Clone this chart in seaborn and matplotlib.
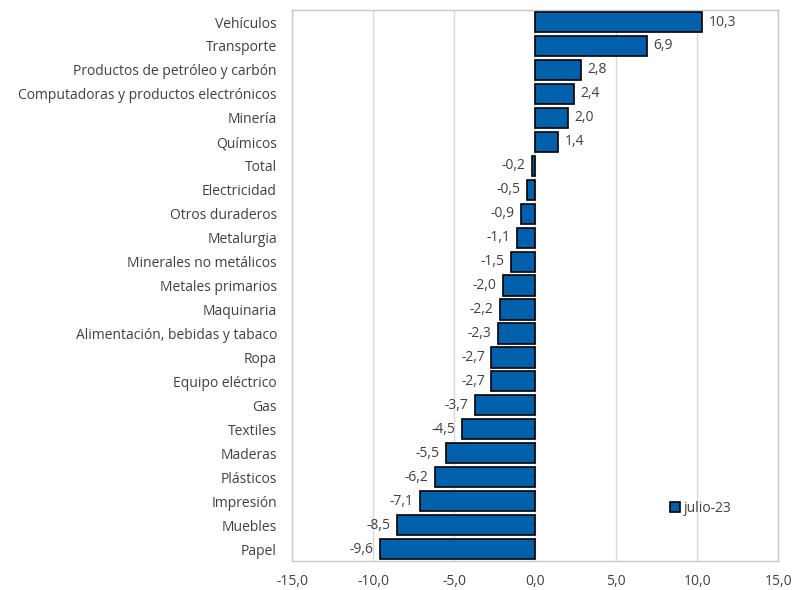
import matplotlib
matplotlib.use("Agg")
import matplotlib.pyplot as plt
import seaborn as sns
import pandas as pd

categories = ["Vehículos", "Transporte", "Productos de petróleo y carbón",
              "Computadoras y productos electrónicos", "Minería", "Químicos",
              "Total", "Electricidad", "Otros duraderos", "Metalurgia",
              "Minerales no metálicos", "Metales primarios", "Maquinaria",
              "Alimentación, bebidas y tabaco", "Ropa", "Equipo eléctrico",
              "Gas", "Textiles", "Maderas", "Plásticos", "Impresión",
              "Muebles", "Papel"]
values = [10.3, 6.9, 2.8, 2.4, 2.0, 1.4, -0.2, -0.5, -0.9, -1.1, -1.5, -2.0,
          -2.2, -2.3, -2.7, -2.7, -3.7, -4.5, -5.5, -6.2, -7.1, -8.5, -9.6]
series_name = "julio-23"
xticks = [-15, -10, -5, 0, 5, 10, 15]

sns.set_style("white")
plt.rcParams['font.family'] = ['Open Sans', 'DejaVu Sans']

df = pd.DataFrame({"cat": categories, "val": values, "serie": series_name})

fig = plt.figure(figsize=(7.94, 5.9), dpi=100)
ax = fig.add_axes([0.368, 0.049, 0.612, 0.934])

sns.barplot(data=df, y="cat", x="val", hue="serie", orient="h", ax=ax,
            palette=["#0060AC"], saturation=1, edgecolor="black", linewidth=1.2,
            width=0.84, legend=True, zorder=3)

ax.set_xlim(-15, 15)
ax.set_xticks(xticks)
ax.set_xticklabels([f"{t:.1f}".replace(".", ",") for t in xticks])
ax.set_xlabel("")
ax.set_ylabel("")
ax.grid(axis="x", color="#d9d9d9", linewidth=1, zorder=0)
ax.grid(axis="y", visible=False)
for s in ax.spines.values():
    s.set_color("#c8c8c8")
    s.set_linewidth(1)
ax.tick_params(axis="both", length=0, labelsize=10, colors="#404040")
ax.tick_params(axis="x", pad=9)
ax.tick_params(axis="y", pad=11)

for i, v in enumerate(values):
    lab = f"{v:.1f}".replace(".", ",")
    if v >= 0:
        ax.text(v + 0.4, i, lab, va="center", ha="left", fontsize=10, color="#404040")
    else:
        ax.text(v - 0.4, i, lab, va="center", ha="right", fontsize=10, color="#404040")

leg = ax.legend(loc="lower right", bbox_to_anchor=(0.93, 0.06), frameon=False,
                fontsize=10, handlelength=0.7, handleheight=0.7, handletextpad=0.3)
for t in leg.get_texts():
    t.set_color("#404040")

fig.savefig("out.png", dpi=100)
